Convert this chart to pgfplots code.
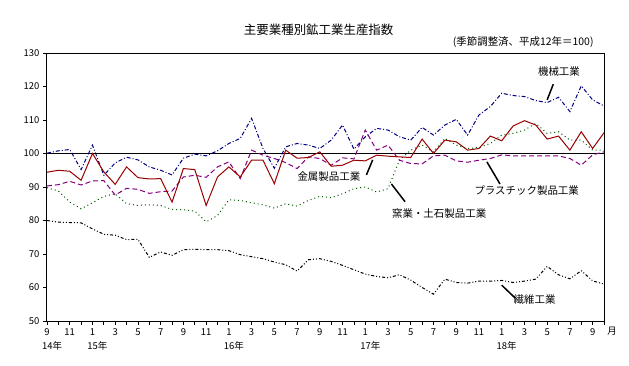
\documentclass[border=0pt]{standalone}
\usepackage{fontspec}
\setmainfont{Noto Sans CJK JP}
\usepackage{pgfplots}
\usepackage{pgfplotstable}
\pgfplotsset{compat=1.18}
\definecolor{cKikai}{RGB}{0,0,128}
\definecolor{cKinzoku}{RGB}{153,0,0}
\definecolor{cPla}{RGB}{128,0,128}
\definecolor{cYogyo}{RGB}{0,90,0}
\definecolor{cSeni}{RGB}{0,0,0}

\pgfplotstableread{
i kikai kinzoku pla yogyo seni
0 100.1 94.4 90.3 89.8 80.0
1 100.8 95.0 90.7 88.8 79.5
2 101.2 94.7 91.7 85.5 79.4
3 95.2 92.0 90.6 83.5 79.3
4 102.5 100.0 91.8 85.3 77.5
5 93.5 94.5 91.9 87.2 75.9
6 97.2 90.8 87.6 88.0 75.6
7 98.9 96.0 89.6 85.0 74.3
8 98.1 92.8 89.3 84.5 74.4
9 96.0 92.4 88.1 84.7 69.0
10 95.0 92.5 88.6 84.5 70.6
11 93.6 85.5 88.8 83.3 69.6
12 98.6 95.5 93.0 83.2 71.3
13 99.8 95.2 93.5 82.8 71.4
14 99.3 84.5 92.9 79.6 71.3
15 100.8 93.0 96.0 81.5 71.3
16 103.0 96.0 97.5 86.2 71.0
17 104.5 93.0 92.5 86.0 69.8
18 110.5 98.0 101.0 85.3 69.2
19 101.5 98.0 99.5 84.7 68.6
20 95.6 91.0 98.5 83.7 67.6
21 102.0 101.0 97.3 85.0 66.8
22 103.0 98.6 95.5 84.3 64.9
23 102.5 98.8 99.0 86.0 68.3
24 101.5 100.5 98.5 87.2 68.6
25 104.0 96.2 96.5 86.8 67.8
26 108.5 96.5 98.7 88.0 66.6
27 101.3 98.0 98.4 89.5 65.3
28 105.0 97.8 107.0 90.0 64.0
29 107.5 99.5 101.0 88.5 63.3
30 107.0 99.2 102.5 89.5 62.9
31 105.0 99.0 98.0 98.0 63.8
32 104.0 98.8 97.0 101.0 62.2
33 107.8 104.3 96.9 102.5 60.0
34 105.5 100.0 99.3 100.5 58.0
35 108.5 104.0 99.5 104.5 62.5
36 110.2 103.5 97.8 102.5 61.5
37 105.5 101.0 97.4 101.5 61.3
38 111.5 101.5 98.0 101.8 61.9
39 114.0 105.2 98.5 103.0 61.9
40 118.0 103.8 99.6 105.5 62.1
41 117.3 108.2 99.3 106.0 61.5
42 117.0 109.8 99.3 107.0 61.9
43 115.8 108.5 99.3 109.0 62.5
44 115.2 104.3 99.3 106.0 66.3
45 116.8 105.2 99.3 106.5 63.8
46 112.5 101.0 98.5 104.0 62.6
47 120.2 106.5 96.5 104.0 65.0
48 116.0 101.5 99.6 101.0 62.0
49 114.2 106.2 100.5 101.0 61.0
}\data

\begin{document}
\begin{tikzpicture}
\begin{axis}[
  at={(0,0)}, anchor=south west,
  scale only axis, width=557bp, height=268bp,
  xmin=0, xmax=49, ymin=50, ymax=130,
  ytick={50,60,...,130},
  xtick={0,2,...,48},
  xticklabels={9,11,1,3,5,7,9,11,1,3,5,7,9,11,1,3,5,7,9,11,1,3,5,7,9},
  minor xtick={1,3,...,49},
  tick align=outside, tick pos=left,
  major tick length=4bp, minor tick length=4bp,
  tick style={black, line width=0.8bp},
  axis line style={black, line width=1bp},
  clip=false,
  /pgf/number format/assume math mode=true,
  ticklabel style={font=\fontsize{9.5}{10}\selectfont},
]
\addplot[black, line width=1.2bp] coordinates {(0,100) (49,100)};
\addplot[cYogyo, line width=1bp, dash pattern=on 1bp off 3bp] table[x=i, y=yogyo] {\data};
\addplot[cSeni, line width=1bp, dash pattern=on 3bp off 2bp on 1bp off 2bp on 1bp off 2bp] table[x=i, y=seni] {\data};
\addplot[cPla, line width=1bp, dash pattern=on 5bp off 3bp] table[x=i, y=pla] {\data};
\addplot[cKikai, line width=1bp, dash pattern=on 4bp off 2bp on 1bp off 2bp] table[x=i, y=kikai] {\data};
\addplot[cKinzoku, line width=1bp] table[x=i, y=kinzoku] {\data};

% labels and leader lines
\begin{scope}[every node/.style={font=\fontsize{10.5}{12}\selectfont, inner sep=0pt}]
\node at (axis cs:45.04,124.6) {機械工業};
\draw[line width=1.5bp] (axis cs:44.54,120.7) -- (axis cs:44.0,116.0);
\node at (axis cs:24.8,93.0) {金属製品工業};
\draw[line width=1.5bp] (axis cs:28.1,93.6) -- (axis cs:28.65,98.1);
\node at (axis cs:34.5,82.2) {窯業・土石製品工業};
\draw[line width=1.5bp] (axis cs:30.3,90.9) -- (axis cs:31.5,85.6);
\node at (axis cs:42.2,88.8) {プラスチック製品工業};
\draw[line width=1.5bp] (axis cs:38.7,97.5) -- (axis cs:39.85,90.9);
\node at (axis cs:42.9,56.3) {繊維工業};
\draw[line width=1.5bp] (axis cs:40.0,60.7) -- (axis cs:41.2,56.8);
\node[font=\fontsize{12.5}{14}\selectfont] at (axis cs:23.9,136.9) {主要業種別鉱工業生産指数};
\node[anchor=east] at (axis cs:48.1,133.3) {(季節調整済、平成12年＝100)};
\end{scope}
\begin{scope}[every node/.style={font=\fontsize{9.5}{10}\selectfont, inner sep=0pt}]
\node at ([xshift=5bp,yshift=-25bp]axis cs:0,50) {14年};
\node at ([xshift=5bp,yshift=-25bp]axis cs:4,50) {15年};
\node at ([xshift=5bp,yshift=-25bp]axis cs:16,50) {16年};
\node at ([xshift=5bp,yshift=-25bp]axis cs:28,50) {17年};
\node at ([xshift=5bp,yshift=-25bp]axis cs:40,50) {18年};
\node at ([xshift=8bp,yshift=-10bp]axis cs:49,50) {月};
\end{scope}
\end{axis}
\pgfresetboundingbox
\path[use as bounding box] (-47bp,-45bp) rectangle (582bp,321bp);
\end{tikzpicture}
\end{document}
